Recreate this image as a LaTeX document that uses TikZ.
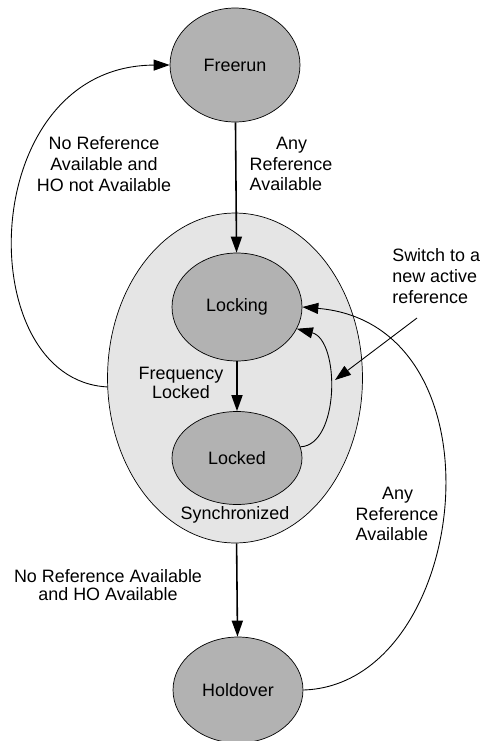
\documentclass[tikz,border=0pt]{standalone}
\usepackage{fontspec}
\setmainfont{Liberation Sans}
\usetikzlibrary{shapes.geometric,arrows.meta}

\begin{document}
\begin{tikzpicture}[x=0.02cm,y=-0.02cm,
    font=\fontsize{10.2}{11.9}\selectfont,
    state/.style={ellipse,draw,fill=gray!60,minimum width=2.6cm,inner sep=0pt},
    syncarea/.style={ellipse,draw,fill=black!10,minimum width=5.1cm,minimum height=6.6cm},
    trans/.style={line width=0.9pt,-{Triangle[length=0.32cm,width=0.22cm]}},
    thinarrow/.style={line width=0.5pt,-{Triangle[length=0.32cm,width=0.22cm]}},
    note/.style={align=center,inner sep=0pt}
  ]
  \useasboundingbox (0,0) rectangle (483,741);
  % the synchronized area goes first, the states sit on top of it
  \node[syncarea] (sync) at (235,378) {};
  \node[state,minimum height=2.28cm] (freerun) at (235,65) {Freerun};
  \node[state,minimum height=2.16cm] (locking) at (237,307) {Locking};
  \node[state,minimum height=1.86cm] (locked) at (237,458) {Locked};
  \node[state,minimum height=2.12cm] (holdover) at (238,690) {Holdover};
  \node (synclabel) at (235,515) {Synchronized};

  % straight transitions
  \draw[trans] (freerun) -- (locking);
  \draw[trans] (locking) -- (locked);
  \draw[trans] (sync) -- (holdover);

  % curved transitions
  \draw[thinarrow] (sync.184) .. controls (-30,380) and (-25,66) .. (freerun.west);
  \draw[thinarrow] (holdover.east) .. controls (470,685) and (510,325) .. (locking.east);
  \draw[thinarrow] (locked.10) .. controls (340,445) and (340,340) .. (locking.-20);

  \coordinate (switchfrom) at (417,318);
  \coordinate (switchto) at (335,380);
  \draw[thinarrow] (switchfrom) -- (switchto);

  % labels
  \node[note] (lostall) at (104,164) {No Reference\\Available and\\HO not Available};
  \node[note,align=left] (anyref) at (291,164) {\hspace*{0.53cm}Any\\Reference\\Available};
  \node[note,font=\fontsize{10.2}{10.4}\selectfont] (freqlock) at (181,383) {Frequency\\Locked};
  \node[note,align=left,anchor=west] (switchref) at (392,276) {Switch to a\\new active\\reference};
  \node[note,align=left] (anyback) at (397,514) {\hspace*{0.53cm}Any\\Reference\\Available};
  \node[note,font=\fontsize{10.2}{10.4}\selectfont] (holdref) at (108,585) {No Reference Available\\and HO Available};
\end{tikzpicture}
\end{document}
